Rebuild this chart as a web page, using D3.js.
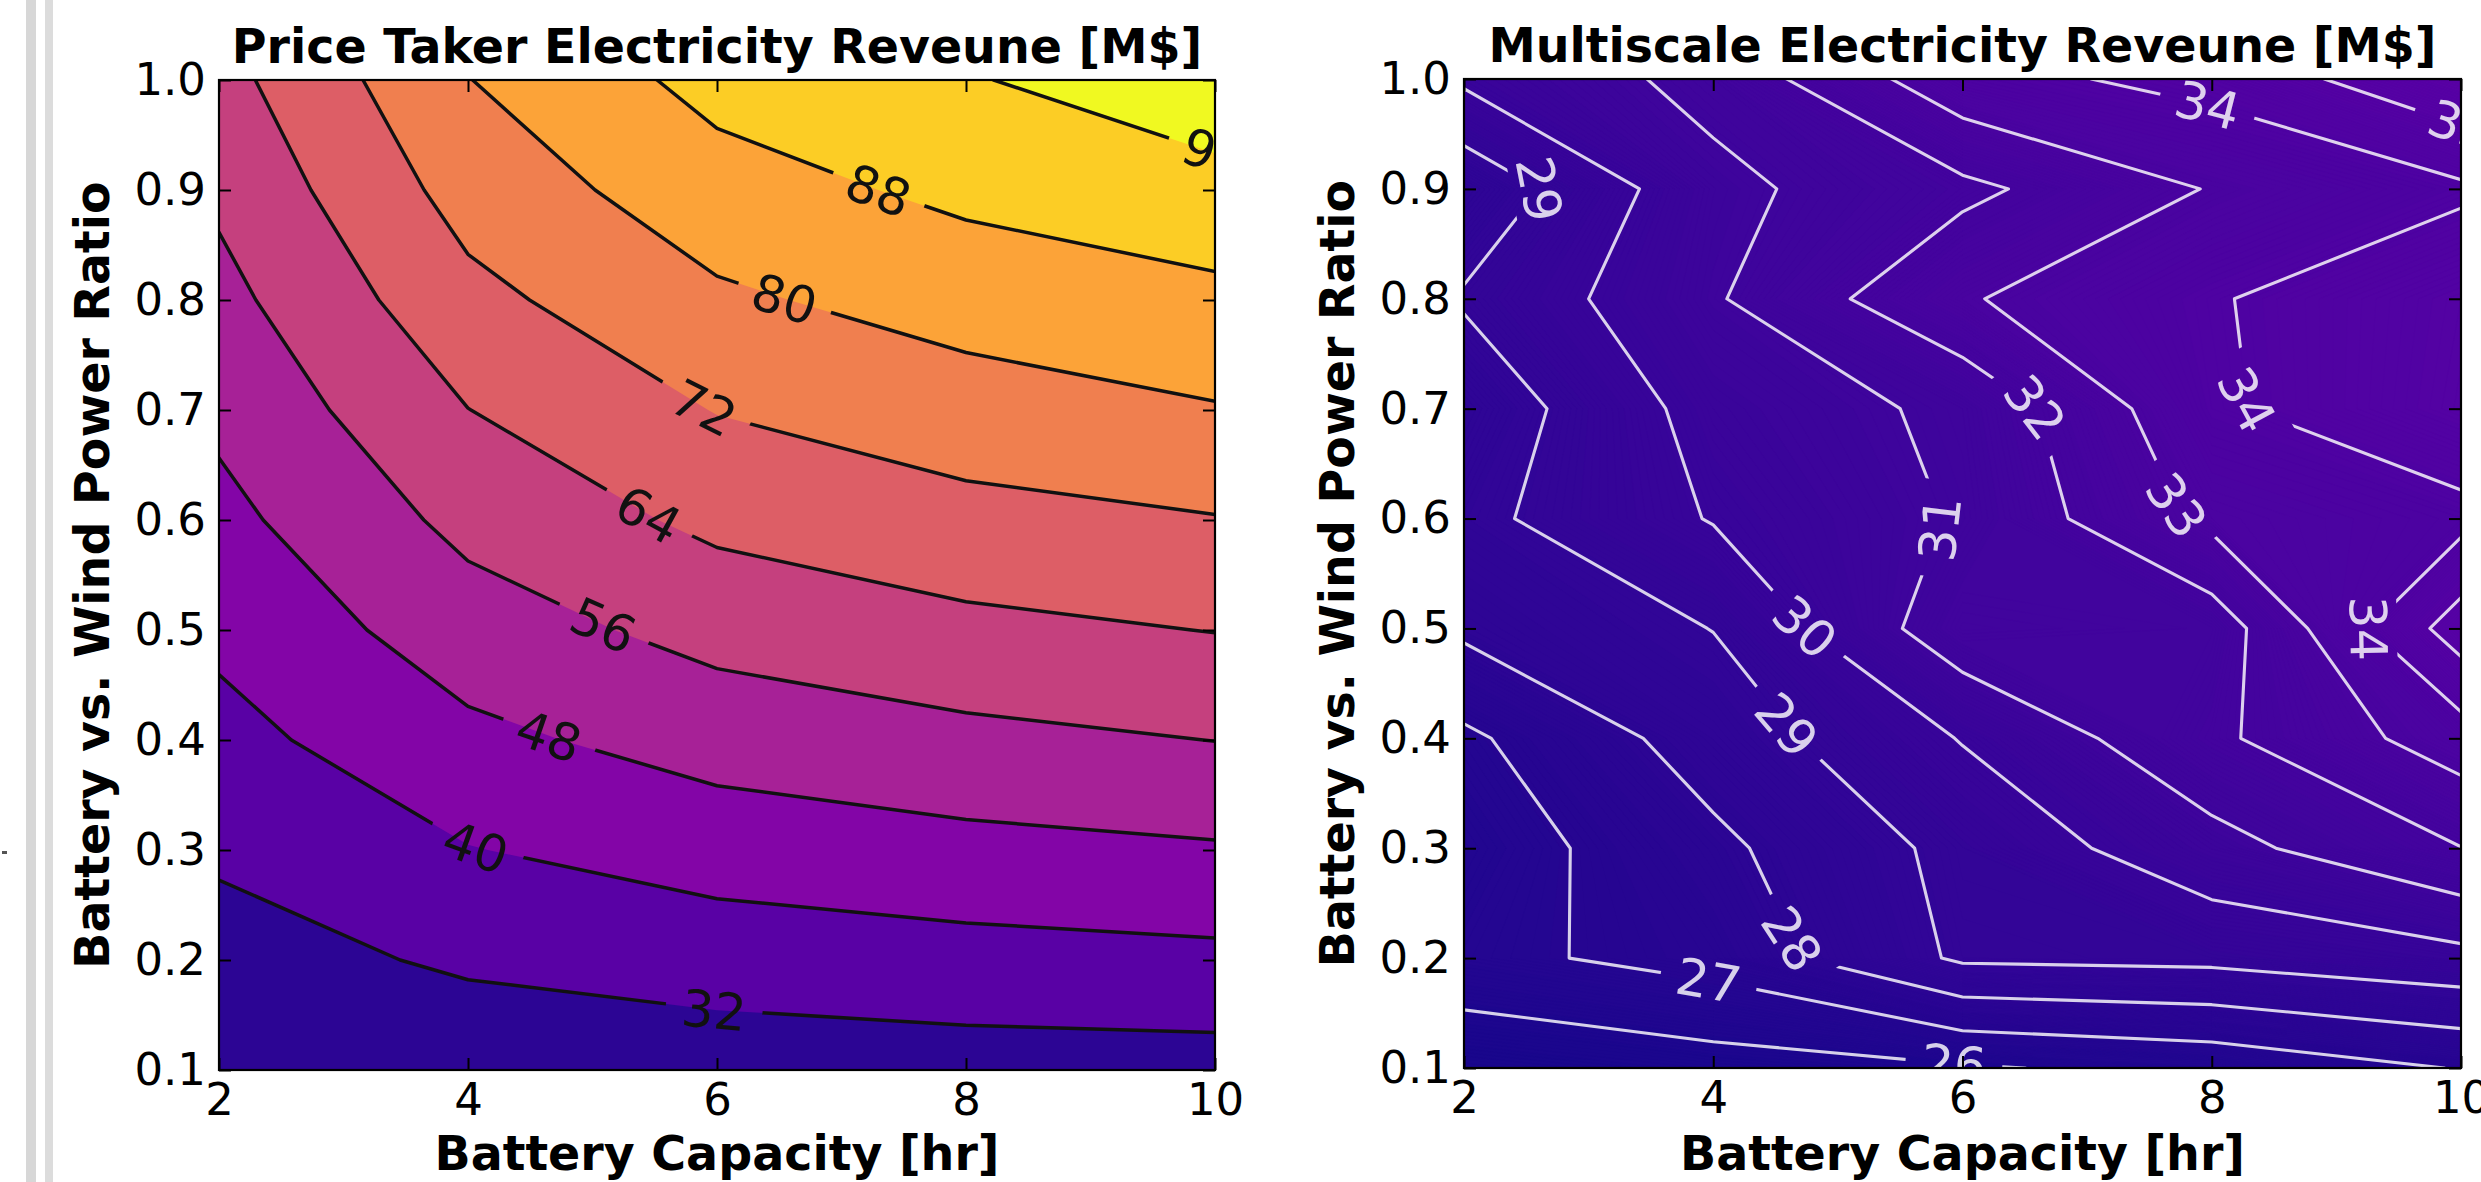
<!DOCTYPE html>
<html>
<head>
<meta charset="utf-8">
<script src="https://cdn.jsdelivr.net/npm/d3@7"></script>
<style>
  body { margin: 0; background: #fff; }
  svg text { font-family: "DejaVu Sans", sans-serif; }
</style>
</head>
<body>
<svg id="fig" width="2481" height="1182"></svg>
<script>
// Grid of the study: battery capacity [hr] × battery/wind power ratio
const batteryHours = [2, 4, 6, 8, 10];
const powerRatios = [0.1, 0.2, 0.3, 0.4, 0.5, 0.6, 0.7, 0.8, 0.9, 1.0];

// Electricity revenue [M$]; one row per power ratio (0.1 → 1.0), one column per capacity
const priceTakerRevenue = [
  [24.4, 26.5, 27.7, 28.5, 28.8],
  [28.8, 33.2, 35.6, 37.1, 38.2],
  [33.2, 39.7, 43.5, 45.7, 47.2],
  [37.5, 46.1, 51.2, 54.0, 56.1],
  [41.7, 52.3, 58.6, 62.1, 64.2],
  [45.8, 58.2, 65.8, 69.5, 71.6],
  [49.7, 63.9, 72.3, 76.5, 79.5],
  [53.6, 69.8, 78.7, 83.2, 85.9],
  [57.5, 75.1, 84.7, 89.8, 94.0],
  [61.3, 79.8, 90.6, 95.5, 100.0]
];
const multiscaleRevenue = [
  [25.18, 25.57, 25.90, 26.30, 27.05],
  [26.73, 27.37, 29.15, 29.25, 29.70],
  [26.42, 27.78, 29.29, 30.66, 31.98],
  [26.82, 28.46, 30.05, 31.80, 33.52],
  [28.18, 29.02, 31.63, 31.43, 35.51],
  [28.73, 30.06, 31.08, 33.25, 33.69],
  [28.30, 30.40, 31.20, 33.85, 34.88],
  [29.11, 30.89, 32.91, 33.92, 34.80],
  [28.24, 30.74, 31.76, 33.06, 33.83],
  [30.17, 31.30, 33.68, 34.30, 35.85]
];

// Contour levels
const priceTakerLevels = [24, 32, 40, 48, 56, 64, 72, 80, 88, 96, 104];
const multiscaleLevels = [26, 27, 28, 29, 30, 31, 32, 33, 34, 35];

// Shared colour normalisation [M$]
const colorDomain = [24, 100];

// Axis ticks
const xTicks = [2, 4, 6, 8, 10];
const yTicks = [0.1, 0.2, 0.3, 0.4, 0.5, 0.6, 0.7, 0.8, 0.9, 1.0];

// Inline contour labels: [level, capacity, ratio]
const priceTakerLabels = [
  [32, 5.98, 0.158], [40, 4.06, 0.302], [48, 4.65, 0.404], [56, 5.09, 0.505],
  [64, 5.45, 0.605], [72, 5.90, 0.703], [80, 6.55, 0.804], [88, 7.31, 0.904],
  [96, 10.3, 0.93]
];
const multiscaleLabels = [
  [29, 2.69, 0.903], [30, 4.79, 0.507], [29, 4.63, 0.416], [28, 4.47, 0.209],
  [27, 3.96, 0.177], [26, 5.93, 0.103], [31, 5.86, 0.589], [32, 6.61, 0.706],
  [33, 7.71, 0.612], [34, 7.97, 0.978], [34, 8.11, 0.706], [34, 9.26, 0.50],
  [35, 10.3, 0.955]
];

const W = 2481, H = 1182;
const svg = d3.select('#fig');
svg.append('rect').attr('width', W).attr('height', H).attr('fill', '#fff');

// page rules at the far left
svg.append('rect').attr('x', 26).attr('y', 0).attr('width', 10).attr('height', H).attr('fill', '#d7d7d7');
svg.append('rect').attr('x', 45).attr('y', 0).attr('width', 8).attr('height', H).attr('fill', '#dcdcdc');

const defs = svg.append('defs');
const plasma = v => d3.interpolatePlasma((v - colorDomain[0]) / (colorDomain[1] - colorDomain[0]));

function drawPanel(cfg) {
  const nx = batteryHours.length, ny = powerRatios.length;
  const x = d3.scaleLinear().domain([batteryHours[0], batteryHours[nx - 1]]).range([cfg.left, cfg.right]);
  const y = d3.scaleLinear().domain([powerRatios[0], powerRatios[ny - 1]]).range([cfg.bottom, cfg.top]);
  // grid-index space of d3.contours → data space (sample i sits at i + 0.5)
  const gx = d3.scaleLinear().domain([0.5, nx - 0.5]).range([batteryHours[0], batteryHours[nx - 1]]);
  const gy = d3.scaleLinear().domain([0.5, ny - 0.5]).range([powerRatios[0], powerRatios[ny - 1]]);
  const toPx = ([a, b]) => [x(gx(a)), y(gy(b))];
  const proj = d3.geoTransform({ point(a, b) { const p = toPx([a, b]); this.stream.point(p[0], p[1]); } });
  const path = d3.geoPath(proj);
  const flat = cfg.values.flat();
  const contours = d3.contours().size([nx, ny]);

  const clipId = cfg.id + '-clip';
  defs.append('clipPath').attr('id', clipId).append('rect')
    .attr('x', cfg.left).attr('y', cfg.top)
    .attr('width', cfg.right - cfg.left).attr('height', cfg.bottom - cfg.top);

  const g = svg.append('g');
  const plot = g.append('g').attr('clip-path', `url(#${clipId})`);

  // filled bands
  plot.append('g').selectAll('path')
    .data(contours.thresholds(cfg.fillThresholds)(flat))
    .join('path')
    .attr('d', path)
    .attr('fill', d => plasma(d.value + cfg.fillStep / 2))
    .attr('stroke', d => plasma(d.value + cfg.fillStep / 2))
    .attr('stroke-width', cfg.fillStroke);

  // labels: measure, place along the matching contour
  const labelLayer = plot.append('g');
  const inside = p => p[0] >= cfg.left - 1 && p[0] <= cfg.right + 1 && p[1] >= cfg.top - 1 && p[1] <= cfg.bottom + 1;
  const placed = cfg.labels.map(([level, cx, cy]) => {
    const geo = contours.contour(flat, level);
    const rings = [];
    geo.coordinates.forEach(poly => poly.forEach(r => rings.push(r.map(toPx))));
    const text = labelLayer.append('text')
      .attr('text-anchor', 'middle')
      .attr('dy', '0.364em')
      .attr('font-size', cfg.labelSize)
      .attr('fill', cfg.labelColor)
      .text(level);
    const tw = text.node().getComputedTextLength();
    const tx = x(cx), ty = y(cy);
    let best = null;
    rings.forEach((ring, ri) => {
      for (let k = 0; k < ring.length - 1; k++) {
        const p1 = ring[k], p2 = ring[k + 1];
        if (!inside(p1) || !inside(p2)) continue;
        const dx = p2[0] - p1[0], dy = p2[1] - p1[1], L2 = dx * dx + dy * dy;
        let t = L2 ? ((tx - p1[0]) * dx + (ty - p1[1]) * dy) / L2 : 0;
        t = Math.max(0, Math.min(1, t));
        const qx = p1[0] + t * dx, qy = p1[1] + t * dy;
        const d = (qx - tx) ** 2 + (qy - ty) ** 2;
        if (!best || d < best.d) best = { d, ri, k, t, qx, qy };
      }
    });
    let angle = 0, px = tx, py = ty;
    if (best) {
      const ring = rings[best.ri];
      const cum = [0];
      for (let k = 0; k < ring.length - 1; k++) cum.push(cum[k] + Math.hypot(ring[k + 1][0] - ring[k][0], ring[k + 1][1] - ring[k][1]));
      const total = cum[cum.length - 1];
      const s0 = cum[best.k] + best.t * (cum[best.k + 1] - cum[best.k]);
      const at = s => {
        s = ((s % total) + total) % total;
        let k = 0;
        while (k < cum.length - 2 && cum[k + 1] < s) k++;
        const seg = cum[k + 1] - cum[k] || 1;
        const u = (s - cum[k]) / seg;
        return [ring[k][0] + u * (ring[k + 1][0] - ring[k][0]), ring[k][1] + u * (ring[k + 1][1] - ring[k][1])];
      };
      px = best.qx; py = best.qy;
      let a = at(s0 - tw / 2), b = at(s0 + tw / 2);
      if (!inside(a)) a = [px, py];
      if (!inside(b)) b = [px, py];
      angle = Math.atan2(b[1] - a[1], b[0] - a[0]) * 180 / Math.PI;
      if (angle > 90) angle -= 180;
      if (angle <= -90) angle += 180;
    }
    text.attr('transform', `translate(${px},${py}) rotate(${angle})`);
    return { level, px, py, angle, tw };
  });

  // contour lines, each level broken where its own labels sit
  labelLayer.raise();
  cfg.lineLevels.forEach(level => {
    const maskId = `${cfg.id}-mask-${level}`;
    const mask = defs.append('mask').attr('id', maskId).attr('maskUnits', 'userSpaceOnUse')
      .attr('x', 0).attr('y', 0).attr('width', W).attr('height', H);
    mask.append('rect').attr('width', W).attr('height', H).attr('fill', '#fff');
    placed.filter(p => p.level === level).forEach(p => {
      const w = p.tw + 2 * cfg.labelGap, h = cfg.labelSize * 1.1;
      mask.append('rect')
        .attr('x', -w / 2).attr('y', -h / 2).attr('width', w).attr('height', h)
        .attr('transform', `translate(${p.px},${p.py}) rotate(${p.angle})`)
        .attr('fill', '#000');
    });
    plot.insert('path', () => labelLayer.node())
      .datum(contours.contour(flat, level))
      .attr('d', path)
      .attr('fill', 'none')
      .attr('stroke', cfg.lineColor)
      .attr('stroke-width', cfg.lineWidth)
      .attr('stroke-linejoin', 'round')
      .attr('mask', `url(#${maskId})`);
  });

  // axes with inward ticks on all four sides
  const styleAxis = sel => {
    sel.select('.domain').remove();
    sel.selectAll('.tick line').attr('stroke', '#000').attr('stroke-width', 2);
    sel.selectAll('text').attr('font-family', '"DejaVu Sans", sans-serif').attr('font-size', 45).attr('fill', '#000');
    sel.attr('font-family', null).attr('font-size', null);
  };
  g.append('g').attr('transform', `translate(${cfg.left},0)`)
    .call(d3.axisLeft(y).tickValues(yTicks).tickFormat(d3.format('.1f')).tickSize(-12).tickPadding(13))
    .call(styleAxis);
  g.append('g').attr('transform', `translate(0,${cfg.bottom})`)
    .call(d3.axisBottom(x).tickValues(xTicks).tickFormat(d3.format('d')).tickSize(-12).tickPadding(13))
    .call(styleAxis);
  g.append('g').attr('transform', `translate(${cfg.right},0)`)
    .call(d3.axisRight(y).tickValues(yTicks).tickFormat('').tickSize(-12))
    .call(styleAxis);
  g.append('g').attr('transform', `translate(0,${cfg.top})`)
    .call(d3.axisTop(x).tickValues(xTicks).tickFormat('').tickSize(-12))
    .call(styleAxis);

  g.append('rect')
    .attr('x', cfg.left).attr('y', cfg.top)
    .attr('width', cfg.right - cfg.left).attr('height', cfg.bottom - cfg.top)
    .attr('fill', 'none').attr('stroke', '#000').attr('stroke-width', 2.2);

  // titles
  const cxMid = (cfg.left + cfg.right) / 2, cyMid = (cfg.top + cfg.bottom) / 2;
  g.append('text').attr('x', cxMid).attr('y', cfg.top - 17)
    .attr('text-anchor', 'middle').attr('font-size', 47.5).attr('font-weight', 'bold')
    .text(cfg.title);
  g.append('text').attr('x', cxMid).attr('y', 1170)
    .attr('text-anchor', 'middle').attr('font-size', 47.5).attr('font-weight', 'bold')
    .text('Battery Capacity [hr]');
  g.append('text')
    .attr('transform', `translate(${cfg.left - 110},${cyMid}) rotate(-90)`)
    .attr('text-anchor', 'middle').attr('font-size', 47.5).attr('font-weight', 'bold')
    .text('Battery vs. Wind Power Ratio');
}

drawPanel({
  id: 'pt', left: 219, right: 1215, top: 80, bottom: 1070,
  values: priceTakerRevenue,
  fillThresholds: priceTakerLevels.slice(0, -1), fillStep: 8, fillStroke: 0,
  lineLevels: priceTakerLevels.slice(1, -1),
  lineColor: '#111', lineWidth: 3.5, labelColor: '#111', labelSize: 51, labelGap: 16,
  labels: priceTakerLabels,
  title: 'Price Taker Electricity Reveune [M$]'
});

drawPanel({
  id: 'ms', left: 1464, right: 2461, top: 79, bottom: 1068,
  values: multiscaleRevenue,
  fillThresholds: d3.range(25, 36.01, 0.05), fillStep: 0.05, fillStroke: 0.6,
  lineLevels: multiscaleLevels,
  lineColor: 'rgba(255,255,255,0.82)', lineWidth: 3.1, labelColor: 'rgba(255,255,255,0.82)', labelSize: 51, labelGap: 16,
  labels: multiscaleLabels,
  title: 'Multiscale Electricity Reveune [M$]'
});

// small mark at the left page edge
svg.append('rect').attr('x', 2).attr('y', 851).attr('width', 5).attr('height', 3).attr('fill', '#555');
</script>
</body>
</html>
